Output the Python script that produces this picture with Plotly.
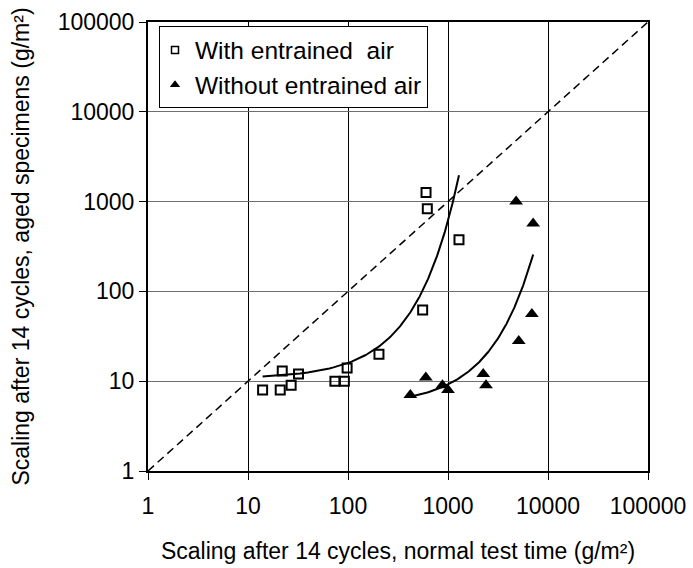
import numpy as np
import plotly.graph_objects as go

# Scaling after 14 cycles (g/m²): normal test time (x) vs. aged specimens (y)
with_air_x = [14, 21, 22, 27, 32, 74, 92, 98, 204, 558, 603, 621, 1288]
with_air_y = [8, 8, 13, 9, 12, 10, 10, 14, 20, 62, 1260, 830, 375]

without_air_x = [420, 600, 880, 1000, 2250, 2400, 4800, 5100, 6900, 7100]
without_air_y = [7, 11, 9, 8, 12, 9, 1000, 28, 56, 570]

tick_values = [1, 10, 100, 1000, 10000, 100000]
tick_labels = ["1", "10", "100", "1000", "10000", "100000"]

series_names = ["With entrained  air", "Without entrained air"]
x_title = "Scaling after 14 cycles, normal test time (g/m²)"
y_title = "Scaling after 14 cycles, aged specimens (g/m²)"

FONT = "Liberation Sans, Arial, sans-serif"


def exp_trend(xs, ys, n=200):
    """Exponential trendline y = a*exp(b*x), least squares on ln(y)."""
    xs = np.asarray(xs, float)
    ys = np.asarray(ys, float)
    b, ln_a = np.polyfit(xs, np.log(ys), 1)
    xt = np.linspace(xs.min(), xs.max(), n)
    return xt, np.exp(ln_a) * np.exp(b * xt)


fig = go.Figure()

# 1:1 reference line
fig.add_trace(go.Scatter(
    x=[tick_values[0], tick_values[-1]], y=[tick_values[0], tick_values[-1]],
    mode="lines", line=dict(color="black", width=1.5, dash="8px,5px"),
    showlegend=False, hoverinfo="skip"))

# trendlines
for xs, ys in [(with_air_x, with_air_y), (without_air_x, without_air_y)]:
    xt, yt = exp_trend(xs, ys)
    fig.add_trace(go.Scatter(x=xt, y=yt, mode="lines",
                             line=dict(color="black", width=2),
                             showlegend=False, hoverinfo="skip"))

# data points
fig.add_trace(go.Scatter(
    x=with_air_x, y=with_air_y, mode="markers", showlegend=False,
    marker=dict(symbol="square-open", size=9, color="black",
                line=dict(color="black", width=2))))
fig.add_trace(go.Scatter(
    x=without_air_x, y=without_air_y, mode="markers", showlegend=False,
    marker=dict(symbol="triangle-up", size=12, color="black",
                line=dict(width=0))))

# legend entries (smaller symbols)
fig.add_trace(go.Scatter(
    x=[None], y=[None], mode="markers", name=series_names[0],
    marker=dict(symbol="square-open", size=7, color="black",
                line=dict(color="black", width=1.5))))
fig.add_trace(go.Scatter(
    x=[None], y=[None], mode="markers", name=series_names[1],
    marker=dict(symbol="triangle-up", size=9, color="black",
                line=dict(width=0))))

axis_common = dict(
    type="log", range=[0, 5],
    tickmode="array", tickvals=tick_values, ticktext=tick_labels,
    showline=True, linecolor="black", linewidth=2, mirror=True,
    ticks="outside", ticklen=7, tickwidth=1, tickcolor="black",
    tickfont=dict(family=FONT, size=23, color="black"),
    showgrid=True, gridwidth=1, zeroline=False,
)

fig.update_xaxes(**axis_common, gridcolor="black", ticklabelstandoff=6,
                 title=dict(text=x_title, standoff=25,
                            font=dict(family=FONT, size=23, color="black")))
fig.update_yaxes(**axis_common, gridcolor="#6e6e6e",
                 title=dict(text=y_title, standoff=22,
                            font=dict(family=FONT, size=23, color="black")))

fig.update_layout(
    width=693, height=568,
    margin=dict(l=148, r=45, t=22, b=97, autoexpand=False),
    paper_bgcolor="white", plot_bgcolor="white",
    font=dict(family=FONT, color="black"),
    legend=dict(x=0.022, y=0.99, xanchor="left", yanchor="top",
                bgcolor="white", bordercolor="black", borderwidth=1,
                font=dict(family=FONT, size=24.5, color="black"),
                itemwidth=30, tracegroupgap=0, indentation=-5),
)

fig.write_html("out.html")
